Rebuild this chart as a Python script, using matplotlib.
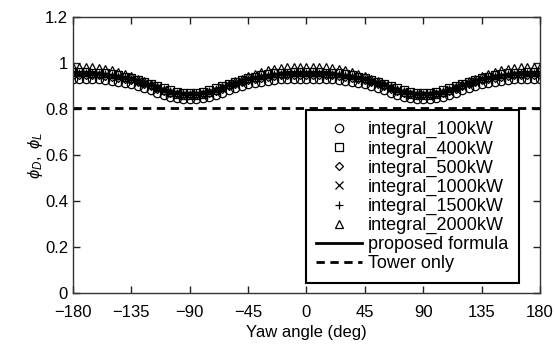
import matplotlib
matplotlib.use('Agg')
import matplotlib.pyplot as plt
from matplotlib.ticker import FormatStrFormatter

plt.rcParams['font.family'] = ['Liberation Sans', 'DejaVu Sans']
plt.rcParams['mathtext.fontset'] = 'custom'
plt.rcParams['mathtext.it'] = 'Liberation Sans:italic'
plt.rcParams['mathtext.rm'] = 'Liberation Sans'

# yaw angles, every 5 deg
yaw = list(range(-180, 185, 5))

p100 = [0.933, 0.933, 0.933, 0.932, 0.930, 0.928, 0.924, 0.920, 0.914, 0.908, 0.900, 0.891, 0.882,
        0.872, 0.863, 0.854, 0.848, 0.844, 0.843, 0.844, 0.848, 0.854, 0.863, 0.872, 0.882, 0.891,
        0.900, 0.908, 0.914, 0.920, 0.924, 0.928, 0.930, 0.932, 0.933, 0.933, 0.933,
        0.933, 0.933, 0.932, 0.930, 0.928, 0.924, 0.920, 0.914, 0.908, 0.900, 0.891, 0.882,
        0.872, 0.863, 0.854, 0.848, 0.844, 0.843, 0.844, 0.848, 0.854, 0.863, 0.872, 0.882, 0.891,
        0.900, 0.908, 0.914, 0.920, 0.924, 0.928, 0.930, 0.932, 0.933, 0.933, 0.933]
p400 = [0.960, 0.960, 0.960, 0.959, 0.957, 0.955, 0.951, 0.947, 0.941, 0.935, 0.927, 0.918, 0.909,
        0.899, 0.890, 0.881, 0.875, 0.871, 0.870, 0.871, 0.875, 0.881, 0.890, 0.899, 0.909, 0.918,
        0.927, 0.935, 0.941, 0.947, 0.951, 0.955, 0.957, 0.959, 0.960, 0.960, 0.960,
        0.960, 0.960, 0.959, 0.957, 0.955, 0.951, 0.947, 0.941, 0.935, 0.927, 0.918, 0.909,
        0.899, 0.890, 0.881, 0.875, 0.871, 0.870, 0.871, 0.875, 0.881, 0.890, 0.899, 0.909, 0.918,
        0.927, 0.935, 0.941, 0.947, 0.951, 0.955, 0.957, 0.959, 0.960, 0.960, 0.960]
p500 = [0.950, 0.950, 0.950, 0.949, 0.947, 0.945, 0.941, 0.937, 0.931, 0.925, 0.917, 0.908, 0.899,
        0.889, 0.880, 0.871, 0.865, 0.861, 0.860, 0.861, 0.865, 0.871, 0.880, 0.889, 0.899, 0.908,
        0.917, 0.925, 0.931, 0.937, 0.941, 0.945, 0.947, 0.949, 0.950, 0.950, 0.950,
        0.950, 0.950, 0.949, 0.947, 0.945, 0.941, 0.937, 0.931, 0.925, 0.917, 0.908, 0.899,
        0.889, 0.880, 0.871, 0.865, 0.861, 0.860, 0.861, 0.865, 0.871, 0.880, 0.889, 0.899, 0.908,
        0.917, 0.925, 0.931, 0.937, 0.941, 0.945, 0.947, 0.949, 0.950, 0.950, 0.950]
p1000 = [0.955, 0.955, 0.955, 0.954, 0.952, 0.950, 0.946, 0.942, 0.936, 0.930, 0.922, 0.913, 0.904,
         0.894, 0.885, 0.876, 0.870, 0.866, 0.865, 0.866, 0.870, 0.876, 0.885, 0.894, 0.904, 0.913,
         0.922, 0.930, 0.936, 0.942, 0.946, 0.950, 0.952, 0.954, 0.955, 0.955, 0.955,
         0.955, 0.955, 0.954, 0.952, 0.950, 0.946, 0.942, 0.936, 0.930, 0.922, 0.913, 0.904,
         0.894, 0.885, 0.876, 0.870, 0.866, 0.865, 0.866, 0.870, 0.876, 0.885, 0.894, 0.904, 0.913,
         0.922, 0.930, 0.936, 0.942, 0.946, 0.950, 0.952, 0.954, 0.955, 0.955, 0.955]
p1500 = [0.957, 0.957, 0.957, 0.956, 0.954, 0.952, 0.948, 0.944, 0.938, 0.932, 0.924, 0.915, 0.906,
         0.896, 0.887, 0.878, 0.872, 0.868, 0.867, 0.868, 0.872, 0.878, 0.887, 0.896, 0.906, 0.915,
         0.924, 0.932, 0.938, 0.944, 0.948, 0.952, 0.954, 0.956, 0.957, 0.957, 0.957,
         0.957, 0.957, 0.956, 0.954, 0.952, 0.948, 0.944, 0.938, 0.932, 0.924, 0.915, 0.906,
         0.896, 0.887, 0.878, 0.872, 0.868, 0.867, 0.868, 0.872, 0.878, 0.887, 0.896, 0.906, 0.915,
         0.924, 0.932, 0.938, 0.944, 0.948, 0.952, 0.954, 0.956, 0.957, 0.957, 0.957]
p2000 = [0.985, 0.985, 0.984, 0.983, 0.980, 0.976, 0.970, 0.963, 0.954, 0.944, 0.933, 0.921, 0.909,
         0.896, 0.884, 0.874, 0.867, 0.863, 0.862, 0.863, 0.867, 0.874, 0.884, 0.896, 0.909, 0.921,
         0.933, 0.944, 0.954, 0.963, 0.970, 0.976, 0.980, 0.983, 0.984, 0.985, 0.985,
         0.985, 0.984, 0.983, 0.980, 0.976, 0.970, 0.963, 0.954, 0.944, 0.933, 0.921, 0.909,
         0.896, 0.884, 0.874, 0.867, 0.863, 0.862, 0.863, 0.867, 0.874, 0.884, 0.896, 0.909, 0.921,
         0.933, 0.944, 0.954, 0.963, 0.970, 0.976, 0.980, 0.983, 0.984, 0.985, 0.985]
proposed = p1000
tower_only = 0.805

series = [
    ('integral_100kW', p100, 'o'),
    ('integral_400kW', p400, 's'),
    ('integral_500kW', p500, 'D'),
    ('integral_1000kW', p1000, 'x'),
    ('integral_1500kW', p1500, '+'),
    ('integral_2000kW', p2000, '^'),
]

fig = plt.figure(figsize=(5.55, 3.5), dpi=100)
ax = fig.add_axes([0.1315, 0.163, 0.8415, 0.788])

for label, vals, m in series:
    ms = 4.5 if m == 'D' else 6
    ax.plot(yaw, vals, linestyle='none', marker=m, markersize=ms, markerfacecolor='none',
            markeredgecolor='black', markeredgewidth=0.9, label=label)

ax.plot(yaw, proposed, color='black', linewidth=2, label='proposed formula')
ax.plot([-180, 180], [tower_only, tower_only], color='black', linewidth=2,
        linestyle=(0, (3, 2)), label='Tower only')

ax.set_xlim(-180, 180)
ax.set_ylim(0, 1.2)
ax.set_xticks(range(-180, 181, 45))
ax.set_yticks([0, 0.2, 0.4, 0.6, 0.8, 1.0, 1.2])
ax.yaxis.set_major_formatter(FormatStrFormatter('%g'))
ax.tick_params(direction='in', length=5, width=1, labelsize=12, top=True, right=True,
               colors='#222222', labelcolor='black')
ax.tick_params(axis='x', pad=9)
for s in ax.spines.values():
    s.set_color('#333333')
    s.set_linewidth(1)

ax.set_xlabel('Yaw angle (deg)', fontsize=12, labelpad=3)
ax.set_ylabel(r'$\phi_D,\ \phi_L$', fontsize=12, labelpad=0)

leg = ax.legend(loc='lower right', bbox_to_anchor=(0.955, 0.036), fontsize=13,
                frameon=True, fancybox=False, edgecolor='black', framealpha=1,
                labelspacing=0.11, handlelength=2.55, handletextpad=0.3, borderpad=0.6,
                borderaxespad=0)
leg.get_frame().set_linewidth(1.5)

fig.savefig('out.png', dpi=100)
